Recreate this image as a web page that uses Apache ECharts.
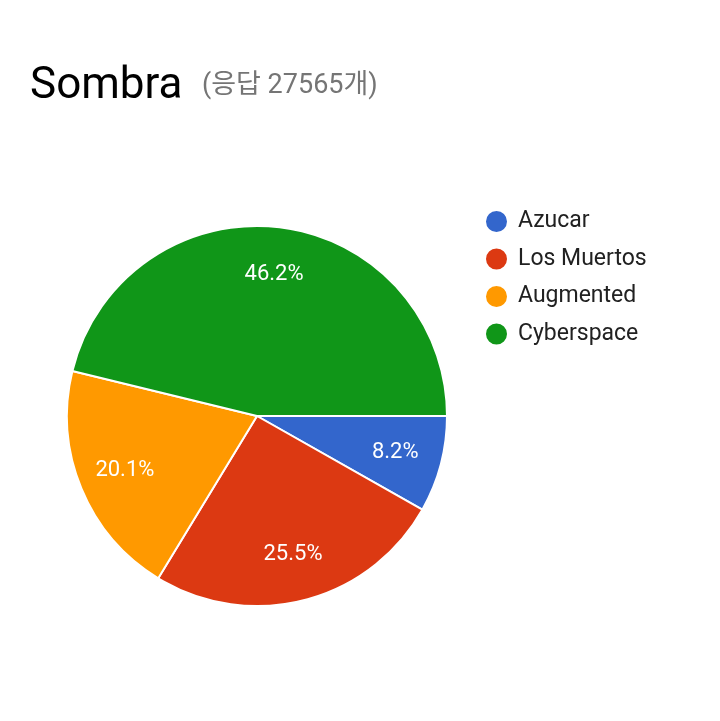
<!DOCTYPE html>
<html><head><meta charset="utf-8">
<script src="https://cdn.jsdelivr.net/npm/echarts@6/dist/echarts.min.js"></script>
<style>html,body{margin:0;padding:0;background:#fff;}#c{width:720px;height:721px;}</style>
</head><body><div id="c"></div>
<script>
const titleText = 'Sombra';
const subText = '(응답 27565개)';
const categories = ['Azucar', 'Los Muertos', 'Augmented', 'Cyberspace'];
const values = [8.2, 25.5, 20.1, 46.2];
const colors = ['#3366CC', '#DC3912', '#FF9900', '#109618'];

const data = categories.map((n, i) => ({ name: n, value: values[i], itemStyle: { color: colors[i] } }));
const FONT = 'Roboto, "Noto Sans CJK KR", sans-serif';
const chart = echarts.init(document.getElementById('c'), null, { renderer: 'canvas' });
chart.setOption({
  backgroundColor: '#ffffff',
  animation: false,
  title: [
    { text: titleText, left: 25, top: 60, textStyle: { fontFamily: FONT, fontSize: 44, fontWeight: 'normal', color: '#000000' } },
    { text: subText, left: 197, top: 68, textStyle: { fontFamily: FONT, fontSize: 27, fontWeight: 'normal', color: '#757575' } }
  ],
  legend: {
    orient: 'vertical', left: 479, top: 204,
    icon: 'circle', itemWidth: 23, itemHeight: 23, itemGap: 12.5,
    data: categories,
    textStyle: { fontFamily: FONT, fontSize: 23, lineHeight: 25, color: '#212121', padding: [0, 0, 0, 5] }
  },
  series: [
    {
      type: 'pie', center: [257, 416], radius: [0, 190],
      startAngle: 0, clockwise: true, silent: true,
      data: data,
      itemStyle: { borderColor: '#ffffff', borderWidth: 2 },
      label: { show: false }, labelLine: { show: false }
    },
    {
      type: 'pie', center: [257, 416], radius: [90, 190],
      startAngle: 0, clockwise: true, silent: true,
      data: data.map(d => ({ name: d.name, value: d.value, itemStyle: { color: 'rgba(0,0,0,0)' } })),
      itemStyle: { borderWidth: 0 },
      label: { show: true, position: 'inside', fontFamily: FONT, fontSize: 22, color: '#ffffff',
        formatter: p => p.value.toFixed(1) + '%' },
      labelLine: { show: false }
    }
  ]
});
</script></body></html>
